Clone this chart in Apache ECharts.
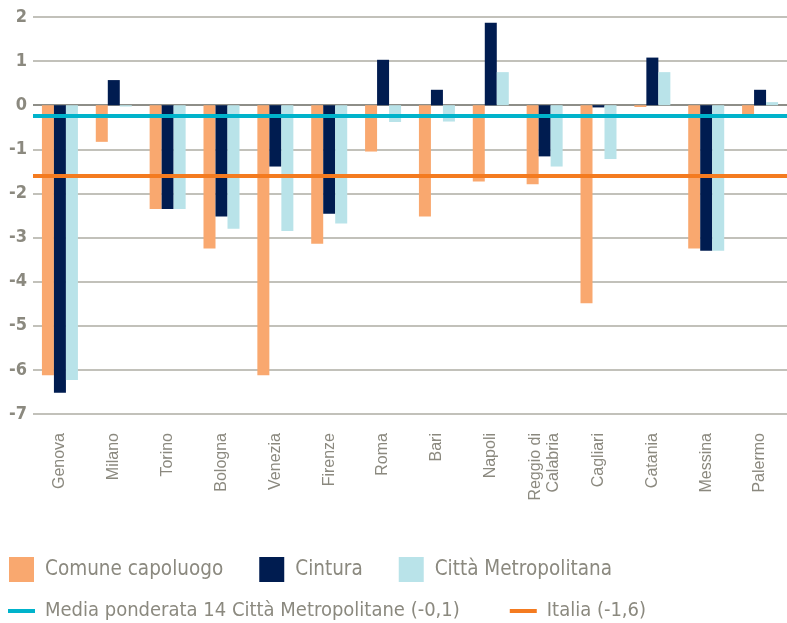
<!DOCTYPE html>
<html>
<head>
<meta charset="utf-8">
<script src="https://cdn.jsdelivr.net/npm/echarts@6/dist/echarts.min.js"></script>
<style>
  html, body { margin: 0; padding: 0; background: #fff; }
  #main { width: 787px; height: 623px; }
</style>
</head>
<body>
<div id="main"></div>
<script>
// dati
var cities = ["Genova", "Milano", "Torino", "Bologna", "Venezia", "Firenze", "Roma", "Bari",
  "Napoli", "Reggio di\nCalabria", "Cagliari", "Catania", "Messina", "Palermo"];
var comune = [-6.12, -0.83, -2.35, -3.25, -6.12, -3.14, -1.05, -2.52, -1.73, -1.79, -4.49, -0.04, -3.25, -0.2];
var cintura = [-6.52, 0.57, -2.35, -2.52, -1.39, -2.46, 1.03, 0.35, 1.87, -1.16, -0.05, 1.08, -3.3, 0.35];
var cittaMetro = [-6.23, -0.03, -2.35, -2.8, -2.85, -2.68, -0.38, -0.37, 0.75, -1.39, -1.22, 0.75, -3.3, 0.07];
var mediaPonderata = -0.24;
var italia = -1.6;

var grey = "#8b897f";
var narrow = "'DejaVu Sans Condensed', 'Liberation Sans', Arial, sans-serif";

var chartDom = document.getElementById("main");
var myChart = echarts.init(chartDom);

// linee della griglia: quella dello zero piu' scura
var gridColors = [];
for (var i = -7; i <= 2; i++) {
  gridColors.push(i === 0 ? "#8e8e88" : "#c2c1ba");
}

function barSeries(name, data, color) {
  return {
    name: name,
    type: "bar",
    data: data,
    barWidth: 12,
    barGap: "0%",
    itemStyle: { color: color },
    emphasis: { disabled: true }
  };
}

function refLine(name, value, color) {
  return {
    name: name,
    type: "line",
    data: [],
    color: color,
    symbol: "none",
    markLine: {
      silent: true,
      symbol: "none",
      label: { show: false },
      lineStyle: { color: color, width: 4, type: "solid" },
      data: [{ yAxis: value }]
    }
  };
}

var option = {
  animation: false,
  grid: { left: 33, right: 0, top: 17, bottom: 209 },
  legend: [
    {
      data: ["Comune capoluogo", "Cintura", "Città Metropolitana"],
      left: 9,
      top: 557,
      padding: 0,
      icon: "rect",
      itemWidth: 25,
      itemHeight: 25,
      itemGap: 36,
      textStyle: { color: grey, fontSize: 20.5, fontFamily: narrow, padding: [0, 0, 0, 6] }
    },
    {
      data: [
        { name: "Media ponderata 14 Città Metropolitane (-0,1)", icon: "rect" },
        { name: "Italia (-1,6)", icon: "rect" }
      ],
      left: 8,
      top: 601,
      padding: 0,
      itemWidth: 27,
      itemHeight: 4,
      itemGap: 50,
      textStyle: { color: grey, fontSize: 20, fontFamily: narrow, padding: [0, 0, 0, 5] }
    }
  ],
  xAxis: {
    type: "category",
    data: cities,
    axisLine: { show: false },
    axisTick: { show: false },
    axisLabel: {
      rotate: 90,
      margin: 19,
      interval: 0,
      color: grey,
      fontSize: 16,
      lineHeight: 18,
      fontFamily: "'Liberation Sans', Arial, sans-serif"
    }
  },
  yAxis: {
    type: "value",
    min: -7,
    max: 2,
    interval: 1,
    axisLine: { show: false },
    axisTick: { show: false },
    axisLabel: { color: grey, fontSize: 18, fontWeight: "bold", fontFamily: narrow, margin: 6 },
    splitLine: { lineStyle: { color: gridColors, width: 2 } }
  },
  series: [
    barSeries("Comune capoluogo", comune, "#f9a86f"),
    barSeries("Cintura", cintura, "#001c50"),
    barSeries("Città Metropolitana", cittaMetro, "#b9e3e9"),
    refLine("Media ponderata 14 Città Metropolitane (-0,1)", mediaPonderata, "#00b3cb"),
    refLine("Italia (-1,6)", italia, "#f47b20")
  ]
};

myChart.setOption(option);
window.onresize = function () {
  myChart.resize();
};
</script>
</body>
</html>
